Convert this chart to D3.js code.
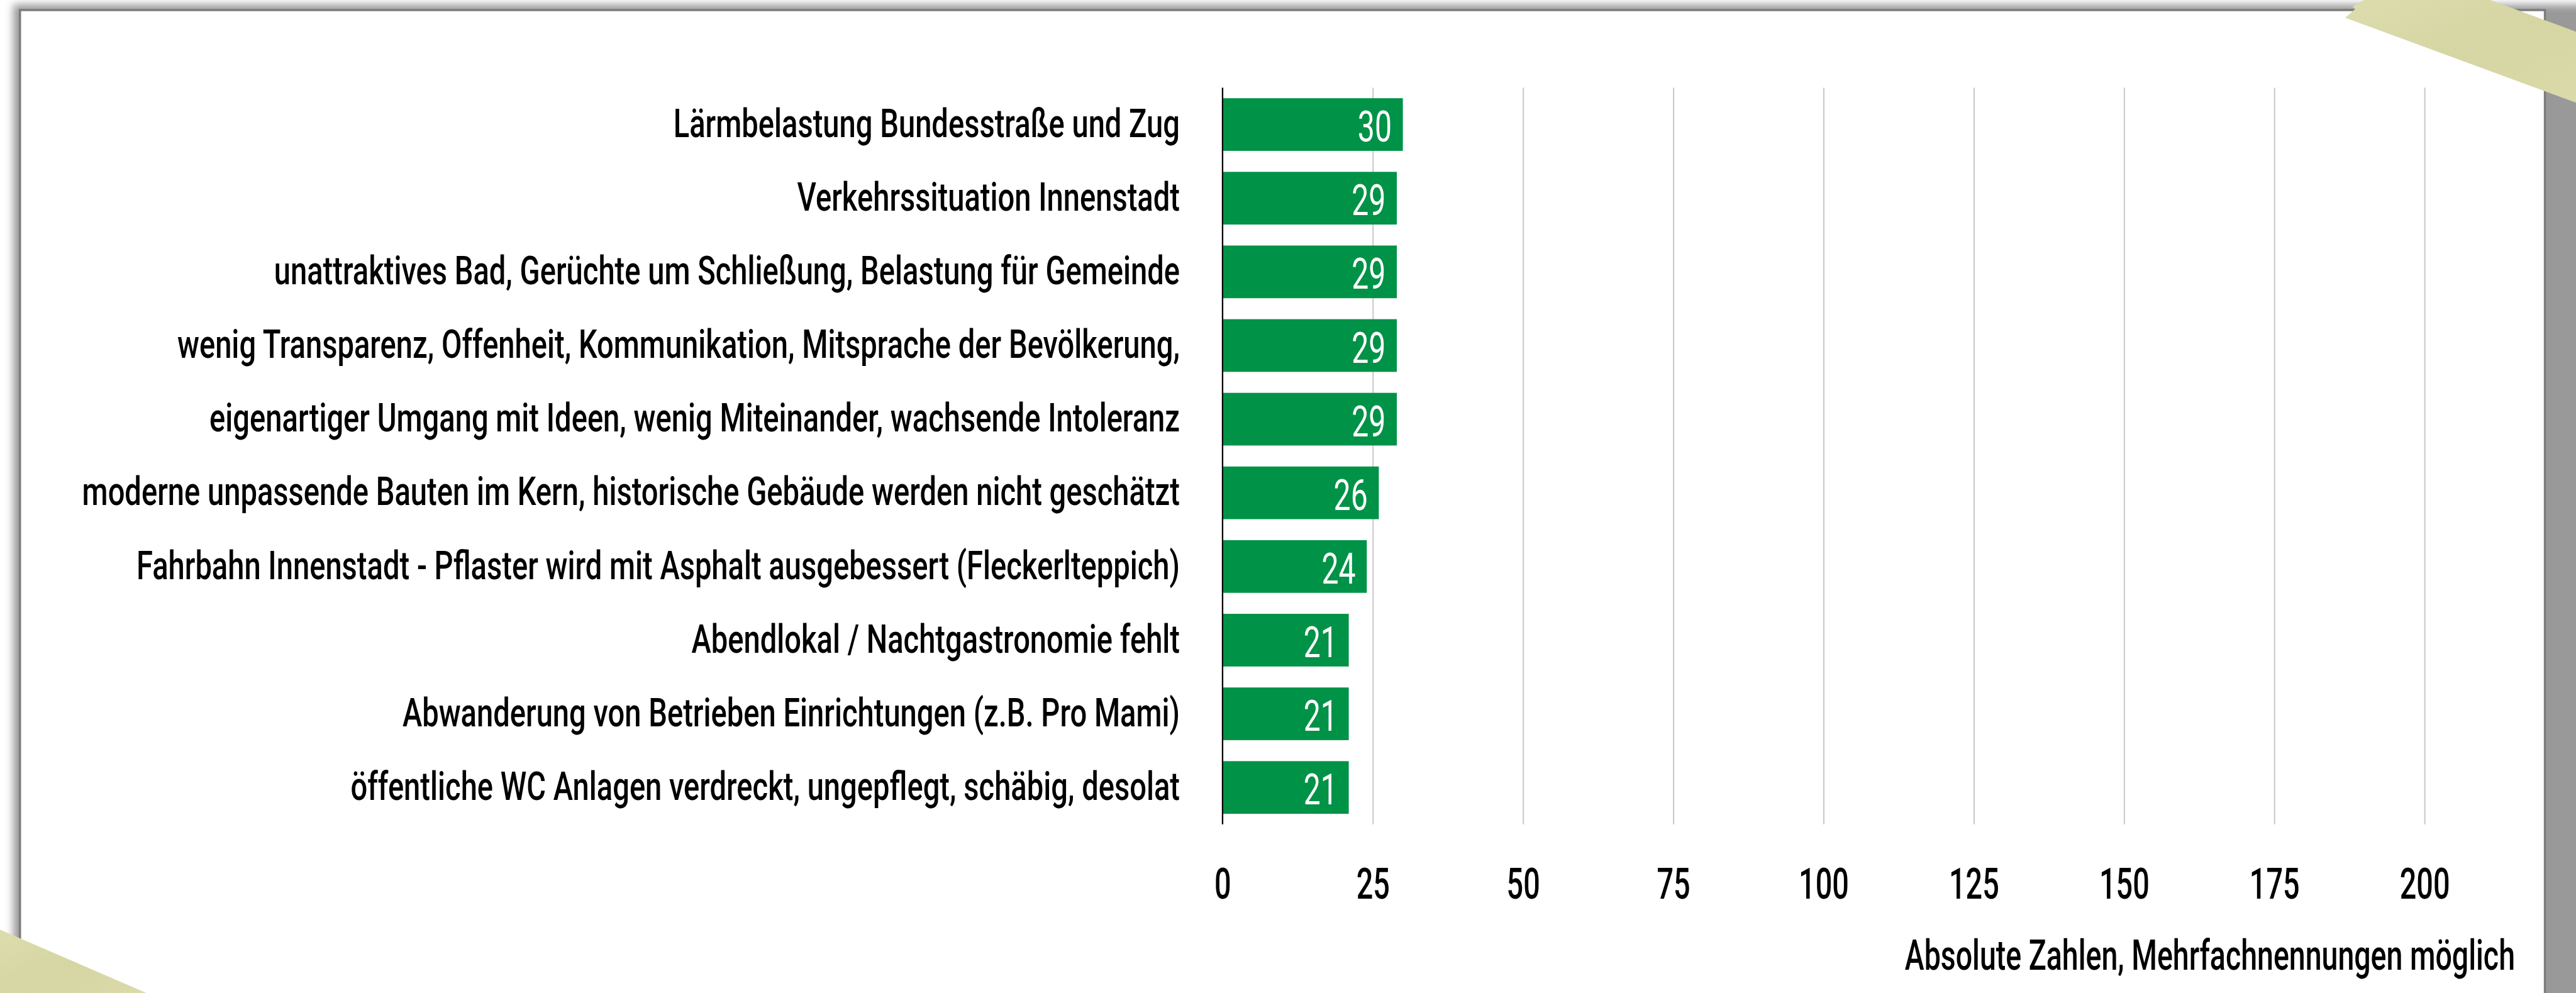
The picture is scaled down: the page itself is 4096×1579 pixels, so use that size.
<!DOCTYPE html>
<meta charset="utf-8">
<style>
  body { margin: 0; background: #fff; overflow: hidden; }
  text { font-family: Roboto, "Liberation Sans", sans-serif; }
  .grid line { stroke: #c6c6c6; stroke-width: 2.2; }
  .grid text { font-size: 77px; font-weight: 500; fill: #000; }
  .label { font-size: 72px; font-weight: 500; fill: #000; }
  .value { font-size: 77px; font-weight: 400; fill: #fff; }
  .caption { font-size: 75px; font-weight: 500; fill: #000; }
</style>
<svg width="4096" height="1579" viewBox="0 0 4644 1790"></svg>
<script src="https://d3js.org/d3.v7.min.js"></script>
<script>
// data
var categories = [
  "Lärmbelastung Bundesstraße und Zug",
  "Verkehrssituation Innenstadt",
  "unattraktives Bad, Gerüchte um Schließung, Belastung für Gemeinde",
  "wenig Transparenz, Offenheit, Kommunikation, Mitsprache der Bevölkerung,",
  "eigenartiger Umgang mit Ideen, wenig Miteinander, wachsende Intoleranz",
  "moderne unpassende Bauten im Kern, historische Gebäude werden nicht geschätzt",
  "Fahrbahn Innenstadt - Pflaster wird mit Asphalt ausgebessert (Fleckerlteppich)",
  "Abendlokal / Nachtgastronomie fehlt",
  "Abwanderung von Betrieben Einrichtungen (z.B. Pro Mami)",
  "öffentliche WC Anlagen verdreckt, ungepflegt, schäbig, desolat"
];
var values = [30, 29, 29, 29, 29, 26, 24, 21, 21, 21];
var tickValues = [0, 25, 50, 75, 100, 125, 150, 175, 200];
var caption = "Absolute Zahlen, Mehrfachnennungen möglich";

// layout (reference pixel space, viewBox scales it down)
var W = 4644, H = 1790;
var plotLeft = 2204, plotRight = 4371, plotTop = 158, plotBottom = 1486;
var squeeze = { label: 0.742, value: 0.71, tick: 0.69, caption: 0.703 };

var svg = d3.select("svg");
var defs = svg.append("defs");

defs.append("filter").attr("id", "soft")
    .attr("x", "-5%").attr("y", "-5%").attr("width", "110%").attr("height", "110%")
  .append("feGaussianBlur").attr("stdDeviation", 7);

var grad = defs.append("linearGradient").attr("id", "tape")
    .attr("x1", "0").attr("y1", "0").attr("x2", "1").attr("y2", "1");
grad.append("stop").attr("offset", "0").attr("stop-color", "#dcdcae");
grad.append("stop").attr("offset", "0.5").attr("stop-color", "#d6d6a4");
grad.append("stop").attr("offset", "1").attr("stop-color", "#dadaaa");

// paper with shadow
svg.append("rect").attr("width", W).attr("height", H).attr("fill", "#fff");
svg.append("rect")
    .attr("x", 24).attr("y", 8).attr("width", W - 24 + 20).attr("height", H + 40)
    .attr("fill", "#999").attr("filter", "url(#soft)");
svg.append("rect")
    .attr("x", 36).attr("y", 18).attr("width", 4588 - 36).attr("height", H + 40)
    .attr("fill", "#fff").attr("stroke", "#7d7d7d").attr("stroke-width", 4);

var x = d3.scaleLinear().domain([0, 200]).range([plotLeft, plotRight]);
var y = d3.scaleBand().domain(categories).range([plotTop, plotBottom])
    .paddingInner(0.285).paddingOuter(0.1425);

// gridlines + tick labels
var grid = svg.append("g").attr("class", "grid")
    .attr("transform", "translate(0," + plotBottom + ")")
    .call(d3.axisBottom(x).tickValues(tickValues)
      .tickSize(-(plotBottom - plotTop)).tickPadding(79));
grid.select(".domain").remove();
grid.selectAll("text").attr("transform", "scale(" + squeeze.tick + ",1)");

// bars
svg.append("g").selectAll("rect")
    .data(values)
    .enter().append("rect")
    .attr("x", x(0))
    .attr("y", function(d, i) { return y(categories[i]); })
    .attr("width", function(d) { return x(d) - x(0); })
    .attr("height", y.bandwidth())
    .attr("fill", "#009247");

// zero axis line
svg.append("line")
    .attr("x1", x(0)).attr("x2", x(0))
    .attr("y1", plotTop).attr("y2", plotBottom)
    .attr("stroke", "#000").attr("stroke-width", 2.5);

// value labels
svg.append("g").selectAll("text")
    .data(values)
    .enter().append("text")
    .attr("class", "value")
    .attr("text-anchor", "end")
    .attr("dy", "0.4em")
    .attr("transform", function(d, i) {
      return "translate(" + (x(d) - 20) + "," + (y(categories[i]) + y.bandwidth() / 2) + ") scale(" + squeeze.value + ",1)";
    })
    .text(function(d) { return d; });

// category labels
svg.append("g").selectAll("text")
    .data(categories)
    .enter().append("text")
    .attr("class", "label")
    .attr("text-anchor", "end")
    .attr("dy", "0.31em")
    .attr("transform", function(d) {
      return "translate(" + (x(0) - 77) + "," + (y(d) + y.bandwidth() / 2) + ") scale(" + squeeze.label + ",1)";
    })
    .text(function(d) { return d; });

// caption
svg.append("text")
    .attr("class", "caption")
    .attr("text-anchor", "end")
    .attr("transform", "translate(4534,1748) scale(" + squeeze.caption + ",1)")
    .text(caption);

// masking tape
svg.append("polygon")
    .attr("points", "4228,32 4246,16 4241,12 4262,0 4489,0 4644,57 4644,185")
    .attr("fill", "url(#tape)");
svg.append("polygon")
    .attr("points", "0,1676 264,1790 0,1790")
    .attr("fill", "url(#tape)");
</script>
